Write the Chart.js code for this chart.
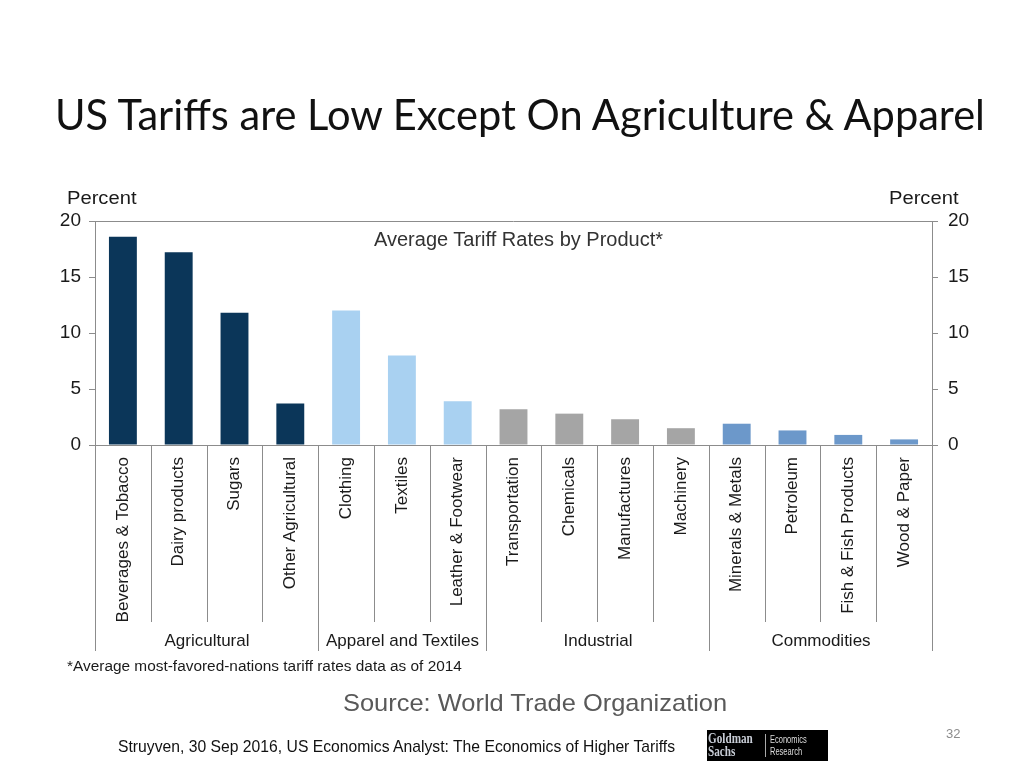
<!DOCTYPE html>
<html><head><meta charset="utf-8">
<script src="https://cdn.jsdelivr.net/npm/chart.js@4/dist/chart.umd.min.js"></script>
<style>
html,body{margin:0;padding:0;background:#fff;}
#wrap{position:relative;width:1024px;height:768px;overflow:hidden;background:#fff;}
#c{position:absolute;left:0;top:0;}
.t{position:absolute;white-space:nowrap;line-height:1;font-family:"Liberation Sans",Arial,sans-serif;color:#1a1a1a;transform-origin:left top;}
</style></head><body>
<div id="wrap">
<canvas id="c" width="1024" height="768"></canvas>
<div class="t" id="title" style="left:55px;top:94px;font-family:Lato,'Open Sans',sans-serif;font-size:41.6px;color:#111;">US Tariffs are Low Except On Agriculture &amp; Apparel</div>
<div class="t" style="left:67px;top:189px;font-size:18px;transform:scaleX(1.12);">Percent</div>
<div class="t" style="left:889px;top:189px;font-size:18px;transform:scaleX(1.12);">Percent</div>
<div class="t" id="inner" style="left:374px;top:229px;font-size:20px;color:#333;">Average Tariff Rates by Product*</div>
<div class="t" id="foot" style="left:67px;top:659px;font-size:14px;transform:scaleX(1.1);">*Average most-favored-nations tariff rates data as of 2014</div>
<div class="t" id="src" style="left:343px;top:691px;font-size:24px;color:#595959;transform:scaleX(1.06);">Source: World Trade Organization</div>
<div class="t" style="left:946px;top:727px;font-size:13px;color:#8c8c8c;">32</div>
<div class="t" id="foot2" style="left:118px;top:738px;font-size:17px;color:#111;transform:scaleX(0.924);">Struyven, 30 Sep 2016, US Economics Analyst: The Economics of Higher Tariffs</div>
<div style="position:absolute;left:707px;top:730px;width:121px;height:31px;background:#000;">
  <div style="position:absolute;left:1px;top:2px;font-family:'Liberation Serif',serif;font-weight:bold;font-size:14px;line-height:13px;color:#c8cdd6;transform:scaleX(0.8);transform-origin:left top;">Goldman<br>Sachs</div>
  <div style="position:absolute;left:58px;top:4px;width:1px;height:23px;background:#aaa;"></div>
  <div style="position:absolute;left:63px;top:4px;font-family:'Liberation Sans',sans-serif;font-size:10px;line-height:12px;color:#ddd;transform:scaleX(0.75);transform-origin:left top;">Economics<br>Research</div>
</div>
</div>
<script>
const categories = ["Beverages & Tobacco","Dairy products","Sugars","Other Agricultural","Clothing","Textiles","Leather & Footwear","Transportation","Chemicals","Manufactures","Machinery","Minerals & Metals","Petroleum","Fish & Fish Products","Wood & Paper"];
const values = [18.6,17.2,11.8,3.7,12.0,8.0,3.9,3.2,2.8,2.3,1.5,1.9,1.3,0.9,0.5];
const groupNames = ["Agricultural","Apparel and Textiles","Industrial","Commodities"];
const groupSizes = [4,3,4,4];
const groupColors = ["#0b3659","#a9d1f1","#a5a5a5","#6c98ca"];
const yMin = 0, yMax = 20, yStep = 5;

const barColors = [];
groupSizes.forEach((n,g)=>{ for(let i=0;i<n;i++) barColors.push(groupColors[g]); });

const lineColor = '#8c8c8c';
const deco = {
  id:'deco',
  afterDraw(chart){
    const {ctx, chartArea:a, scales:{x}} = chart;
    ctx.save();
    ctx.strokeStyle = lineColor; ctx.lineWidth = 1;
    const ln=(x1,y1,x2,y2)=>{ctx.beginPath();ctx.moveTo(x1,y1);ctx.lineTo(x2,y2);ctx.stroke();};
    ln(a.left, Math.round(a.top)+0.5, a.right, Math.round(a.top)+0.5);
    const n = categories.length;
    const bounds = [];
    for(let i=0;i<=n;i++){
      let px;
      if(i===0) px=a.left; else if(i===n) px=a.right;
      else px=(x.getPixelForValue(i-1)+x.getPixelForValue(i))/2;
      bounds.push(Math.round(px)+0.5);
    }
    const gb=[0]; groupSizes.forEach(s=>gb.push(gb[gb.length-1]+s));
    for(let i=0;i<=n;i++){
      const isG = gb.includes(i);
      ln(bounds[i], a.bottom, bounds[i], a.bottom + (isG?206:177));
    }
    ctx.fillStyle='#1a1a1a';
    ctx.font='17px "Liberation Sans", Arial, sans-serif';
    ctx.textAlign='center'; ctx.textBaseline='middle';
    for(let g=0;g<groupNames.length;g++){
      const cx=(bounds[gb[g]]+bounds[gb[g+1]])/2;
      ctx.fillText(groupNames[g], cx, a.bottom+196);
    }
    ctx.restore();
  }
};

new Chart(document.getElementById('c'), {
  type:'bar',
  data:{ labels:categories, datasets:[{ data:values, backgroundColor:barColors, borderWidth:0, barPercentage:0.5, categoryPercentage:1.0 }] },
  options:{
    responsive:false, animation:false, devicePixelRatio:1,
    layout:{ padding:{ top:221, left:0, right:0, bottom:0 } },
    plugins:{ legend:{display:false}, tooltip:{enabled:false}, title:{display:false} },
    scales:{
      x:{
        grid:{display:false},
        border:{display:true,color:lineColor,width:1},
        ticks:{autoSkip:false,minRotation:90,maxRotation:90,padding:4,color:'#1a1a1a',font:{family:'"Liberation Sans", Arial, sans-serif',size:17}},
        afterFit(s){ s.height = 323; }
      },
      y:{
        position:'left', min:yMin, max:yMax,
        grid:{display:true,drawOnChartArea:false,drawTicks:true,tickLength:6,color:lineColor},
        border:{display:true,color:lineColor,width:1},
        ticks:{stepSize:yStep,padding:8,color:'#1a1a1a',font:{family:'"Liberation Sans", Arial, sans-serif',size:19}},
        afterFit(s){ s.width = 95; }
      },
      y2:{
        position:'right', min:yMin, max:yMax,
        grid:{display:true,drawOnChartArea:false,drawTicks:true,tickLength:6,color:lineColor},
        border:{display:true,color:lineColor,width:1},
        ticks:{stepSize:yStep,padding:10,color:'#1a1a1a',font:{family:'"Liberation Sans", Arial, sans-serif',size:19}},
        afterFit(s){ s.width = 92; }
      }
    }
  },
  plugins:[deco]
});
</script>
</body></html>
